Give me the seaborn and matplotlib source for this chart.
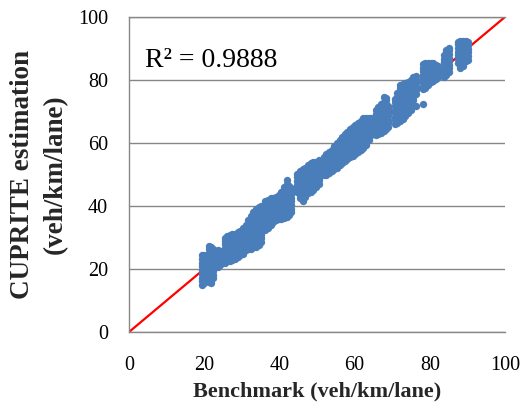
import matplotlib
matplotlib.use("Agg")
import matplotlib.pyplot as plt
import pandas as pd
import seaborn as sns

# Benchmark density groups: each x value is paired with the list of CUPRITE
# estimates observed at that benchmark density (veh/km/lane).
band20_x = [19.3, 19.9]
band20_y = [
    [15.0, 16.2, 17.3, 18.5, 19.6, 20.8, 21.9, 23.1, 24.3],
    [15.6, 16.8, 17.9, 19.1, 20.2, 21.4, 22.5, 23.7, 24.6],
]

band22_x = [21.2, 21.8, 22.4]
band22_y = [
    [16.0, 17.2, 18.3, 19.5, 20.6, 21.8, 22.9, 24.1, 25.2, 26.3, 27.2],
    [15.7, 16.7, 17.8, 19.0, 20.1, 21.3, 22.4, 23.6, 24.7, 25.8, 26.9],
    [17.0, 18.2, 19.4, 20.5, 21.7, 22.8, 24.0, 25.1, 26.2],
]

band24_x = [23.6, 24.1]
band24_y = [
    [20.6, 21.8, 23.0, 24.1, 25.3, 26.1],
    [21.2, 22.4, 23.6, 24.8, 25.8],
]

band28_x = [25.4, 26.1, 26.8, 27.5, 28.2, 28.9, 29.6, 30.3]
band28_y = [
    [22.0, 23.2, 24.3, 25.5, 26.6, 27.8, 28.9, 30.0],
    [22.5, 23.7, 24.8, 26.0, 27.1, 28.3, 29.4, 30.5],
    [22.4, 23.5, 24.7, 25.8, 27.0, 28.1, 29.3, 30.4, 30.9],
    [23.0, 24.2, 25.3, 26.5, 27.6, 28.8, 29.9, 31.0],
    [23.3, 24.5, 25.6, 26.8, 27.9, 29.1, 30.2, 31.2],
    [23.8, 25.0, 26.1, 27.3, 28.4, 29.6, 30.7, 31.6],
    [24.3, 25.4, 26.6, 27.7, 28.9, 30.0, 31.2, 32.1],
    [24.8, 26.0, 27.1, 28.3, 29.4, 30.6, 31.7, 32.9],
]

band33_x = [31.0, 31.7, 32.4, 33.1, 33.8, 34.5, 35.2]
band33_y = [
    [26.0, 27.2, 28.3, 29.5, 30.6, 31.8, 32.9, 34.0],
    [26.4, 27.6, 28.7, 29.9, 31.0, 32.2, 33.3, 34.5, 35.5],
    [26.5, 27.7, 28.9, 30.0, 31.2, 32.3, 33.5, 34.6, 35.8, 36.9],
    [26.9, 28.1, 29.2, 30.4, 31.5, 32.7, 33.8, 35.0, 36.1, 37.3, 38.0],
    [27.0, 28.2, 29.4, 30.5, 31.7, 32.8, 34.0, 35.1, 36.3, 37.4, 38.6, 39.0],
    [27.6, 28.8, 29.9, 31.1, 32.2, 33.4, 34.5, 35.7, 36.8, 38.0, 39.1, 39.6],
    [28.5, 29.7, 30.8, 32.0, 33.1, 34.3, 35.4, 36.6, 37.7, 38.9, 40.0],
]

band40_x = [36.3, 37.0, 37.7, 38.4, 39.1, 39.8, 40.5, 41.2, 41.9, 42.6, 43.2]
band40_y = [
    [32.5, 33.7, 34.8, 36.0, 37.1, 38.3, 39.4, 40.6, 41.5],
    [33.1, 34.3, 35.4, 36.6, 37.7, 38.9, 40.0, 41.2, 42.0],
    [34.0, 35.2, 36.3, 37.5, 38.6, 39.8, 40.9, 42.1, 42.5],
    [35.0, 36.1, 37.3, 38.4, 39.6, 40.7, 41.9, 42.6],
    [35.5, 36.7, 37.8, 39.0, 40.1, 41.3, 42.4, 43.0],
    [35.8, 37.0, 38.1, 39.3, 40.4, 41.6, 42.7, 43.6],
    [36.0, 37.2, 38.3, 39.5, 40.6, 41.8, 42.9, 44.1, 44.6],
    [36.3, 37.5, 38.6, 39.8, 40.9, 42.1, 43.2, 44.4, 45.5, 46.0],
    [36.6, 37.8, 38.9, 40.1, 41.2, 42.4, 43.5, 44.7, 45.8, 46.9, 48.4],
    [37.0, 38.2, 39.3, 40.5, 41.6, 42.8, 43.9, 45.1, 46.3],
    [38.0, 39.2, 40.3, 41.5, 42.6, 43.8, 44.9, 45.6],
]

band47_x = [44.8, 45.5, 46.2, 46.9, 47.6, 48.3, 49.0, 49.7, 50.4]
band47_y = [
    [44.5, 45.7, 46.8, 48.0, 49.1, 50.3],
    [42.5, 43.6, 44.8, 45.9, 47.1, 48.2, 49.4, 50.5, 51.0],
    [41.6, 43.0, 44.2, 45.3, 46.5, 47.6, 48.8, 49.9, 51.1, 51.6],
    [43.0, 44.6, 45.7, 46.9, 48.0, 49.2, 50.3, 51.5, 52.2],
    [44.0, 45.2, 46.3, 47.5, 48.6, 49.8, 50.9, 52.1, 53.0],
    [44.6, 45.7, 46.9, 48.0, 49.2, 50.3, 51.5, 52.6, 53.5],
    [45.0, 46.2, 47.3, 48.5, 49.6, 50.8, 51.9, 53.1, 54.0],
    [46.0, 47.2, 48.3, 49.5, 50.6, 51.8, 52.9, 54.1],
    [47.0, 48.2, 49.3, 50.5, 51.6, 52.8, 53.9, 54.5],
]

band58_x = [51.8, 52.5, 53.2, 53.9, 54.6, 55.3, 56.0, 56.7, 57.4, 58.1,
            58.8, 59.5, 60.2, 60.9, 61.6, 62.3, 63.0, 63.7, 64.3]
band58_y = [
    [49.8, 51.0, 52.1, 53.3, 54.4, 55.6],
    [50.0, 51.2, 52.3, 53.5, 54.6, 55.8, 56.5],
    [50.4, 51.6, 52.8, 53.9, 55.1, 56.2, 57.2],
    [51.0, 52.2, 53.3, 54.5, 55.6, 56.8, 57.9],
    [51.6, 52.8, 53.9, 55.1, 56.2, 57.4, 58.5, 59.0],
    [52.2, 53.4, 54.5, 55.7, 56.8, 58.0, 59.1, 60.0],
    [53.0, 54.2, 55.3, 56.5, 57.6, 58.8, 59.9, 61.0],
    [53.6, 54.8, 55.9, 57.1, 58.2, 59.4, 60.5, 61.7, 62.0],
    [54.2, 55.4, 56.5, 57.7, 58.8, 60.0, 61.1, 62.3, 62.8],
    [54.8, 56.0, 57.1, 58.3, 59.4, 60.6, 61.7, 62.9, 63.6],
    [55.4, 56.6, 57.7, 58.9, 60.0, 61.2, 62.3, 63.5, 64.4],
    [56.0, 57.2, 58.3, 59.5, 60.6, 61.8, 62.9, 64.1, 65.0],
    [56.6, 57.8, 58.9, 60.1, 61.2, 62.4, 63.5, 64.7, 65.8],
    [57.2, 58.4, 59.5, 60.7, 61.8, 63.0, 64.1, 65.3, 66.4],
    [57.8, 59.0, 60.1, 61.3, 62.4, 63.6, 64.7, 65.9, 67.0],
    [58.5, 59.7, 60.8, 62.0, 63.1, 64.3, 65.4, 66.6, 67.8],
    [59.5, 60.7, 61.8, 63.0, 64.1, 65.3, 66.4, 67.6, 68.0],
    [61.0, 62.2, 63.3, 64.5, 65.6, 66.8, 68.0],
    [62.5, 63.7, 64.8, 66.0, 67.1, 67.8],
]

band67_x = [65.6, 66.3, 67.0, 67.7, 68.4, 68.9]
band67_y = [
    [62.4, 63.6, 64.7, 65.9, 67.0, 68.2, 69.3, 70.5],
    [62.8, 64.0, 65.1, 66.3, 67.4, 68.6, 69.7, 70.9, 71.5],
    [63.2, 64.4, 65.5, 66.7, 67.8, 69.0, 70.1, 71.3, 72.5],
    [63.8, 65.0, 66.1, 67.3, 68.4, 69.6, 70.7, 71.9, 73.0, 74.5],
    [64.3, 65.5, 66.6, 67.8, 68.9, 70.1, 71.2, 72.4, 73.5, 74.2],
    [65.0, 66.2, 67.3, 68.5, 69.6, 70.8, 71.9],
]

band73_x = [70.7, 71.4, 72.1, 72.8, 73.5, 74.2, 74.9, 75.6, 76.2]
band73_y = [
    [66.0, 67.2, 68.3, 69.5, 70.6, 71.8, 72.9, 74.0],
    [66.5, 67.7, 68.8, 70.0, 71.1, 72.3, 73.4, 74.6, 75.8],
    [67.0, 68.2, 69.3, 70.5, 71.6, 72.8, 73.9, 75.1, 76.2, 77.4, 78.5],
    [67.5, 68.7, 69.8, 71.0, 72.1, 73.3, 74.4, 75.6, 76.7, 77.9, 78.8],
    [68.5, 69.7, 70.8, 72.0, 73.1, 74.3, 75.4, 76.6, 77.7, 78.9],
    [69.5, 70.7, 71.8, 73.0, 74.1, 75.3, 76.4, 77.6, 78.7, 79.5],
    [70.5, 71.7, 72.8, 74.0, 75.1, 76.3, 77.4, 78.6, 79.7, 80.0],
    [73.5, 74.7, 75.8, 77.0, 78.1, 79.3, 80.4, 81.0],
    [71.8, 75.5, 76.7, 77.8, 79.0, 80.1, 81.3],
]

band80_x = [78.1, 78.8, 79.5, 80.2, 80.9, 81.6, 82.2]
band80_y = [
    [72.3, 77.0, 78.2, 79.3, 80.5, 81.6, 82.8, 83.9, 85.0],
    [77.5, 78.7, 79.8, 81.0, 82.1, 83.3, 84.4, 85.5],
    [78.5, 79.7, 80.8, 82.0, 83.1, 84.3, 85.4],
    [79.5, 80.7, 81.8, 83.0, 84.1, 85.3],
    [79.8, 81.0, 82.1, 83.3, 84.4, 85.3],
    [80.2, 81.4, 82.5, 83.7, 84.8],
    [81.0, 82.2, 83.3, 84.5],
]

band84_x = [83.7, 84.4, 85.1]
band84_y = [
    [81.0, 82.2, 83.3, 84.5, 85.6, 86.8, 88.0],
    [81.5, 82.7, 83.8, 85.0, 86.1, 87.3, 88.4, 89.5],
    [82.5, 83.7, 84.8, 86.0, 87.1, 88.3, 89.4, 90.2],
]

band89_x = [87.4, 88.1, 88.8, 89.5, 90.1]
band89_y = [
    [85.5, 86.7, 87.8, 89.0, 90.1, 91.3, 92.0],
    [83.8, 85.0, 86.1, 87.3, 88.4, 89.6, 90.7, 91.9, 92.5],
    [84.5, 85.7, 86.8, 88.0, 89.1, 90.3, 91.4, 92.5],
    [86.0, 87.2, 88.3, 89.5, 90.6, 91.8, 92.5],
    [86.5, 87.7, 88.8, 90.0, 91.1, 92.0],
]

axis_ticks = [0, 20, 40, 60, 80, 100]
r_squared = "R\u00b2 = 0.9888"
x_title = "Benchmark (veh/km/lane)"
y_title = "CUPRITE estimation\n(veh/km/lane)"

groups = [
    (band20_x, band20_y), (band22_x, band22_y), (band24_x, band24_y),
    (band28_x, band28_y), (band33_x, band33_y), (band40_x, band40_y),
    (band47_x, band47_y), (band58_x, band58_y), (band67_x, band67_y),
    (band73_x, band73_y), (band80_x, band80_y), (band84_x, band84_y),
    (band89_x, band89_y),
]
rows = [(bx, est) for xs, ys in groups for bx, col in zip(xs, ys) for est in col]
df = pd.DataFrame(rows, columns=["benchmark", "estimate"])

sns.set_style("white")
plt.rcParams["font.family"] = ["Liberation Serif", "DejaVu Serif"]

fig = plt.figure(figsize=(5.27, 4.12), dpi=100)
ax = fig.add_axes([129 / 527, 80 / 412, 376 / 527, 315 / 412])

grid_grey = "#878787"

# 1:1 reference line, under the points
ax.axline((0, 0), slope=1, color="#FF0000", lw=1.6, zorder=2)

sns.scatterplot(data=df, x="benchmark", y="estimate", ax=ax,
                color="#4A7EBB", s=28, marker="o", linewidth=0,
                alpha=1, zorder=3, legend=False)

ax.set_xlim(axis_ticks[0], axis_ticks[-1])
ax.set_ylim(axis_ticks[0], axis_ticks[-1])
ax.set_xticks(axis_ticks)
ax.set_yticks(axis_ticks)
ax.tick_params(axis="both", length=0, labelsize=14.5, colors="black")
ax.tick_params(axis="x", pad=17)
ax.tick_params(axis="y", pad=15)

ax.grid(axis="y", color=grid_grey, lw=1.0, zorder=1)
ax.grid(axis="x", visible=False)
ax.set_axisbelow(True)
for side in ["left", "bottom", "top"]:
    ax.spines[side].set_color(grid_grey)
    ax.spines[side].set_linewidth(1.0)
ax.spines["right"].set_visible(False)

ax.set_xlabel(x_title, fontsize=16, fontweight="bold", va="center")
ax.xaxis.set_label_coords(0.5, -0.19)
ax.set_ylabel(y_title, fontsize=19.5, fontweight="bold", va="center",
              linespacing=1.4)
ax.yaxis.set_label_coords(-0.24, 0.5)

ax.text(0.043, 0.842, r_squared, transform=ax.transAxes, fontsize=20,
        va="baseline", ha="left", color="black")

fig.savefig("out.png", dpi=100)
